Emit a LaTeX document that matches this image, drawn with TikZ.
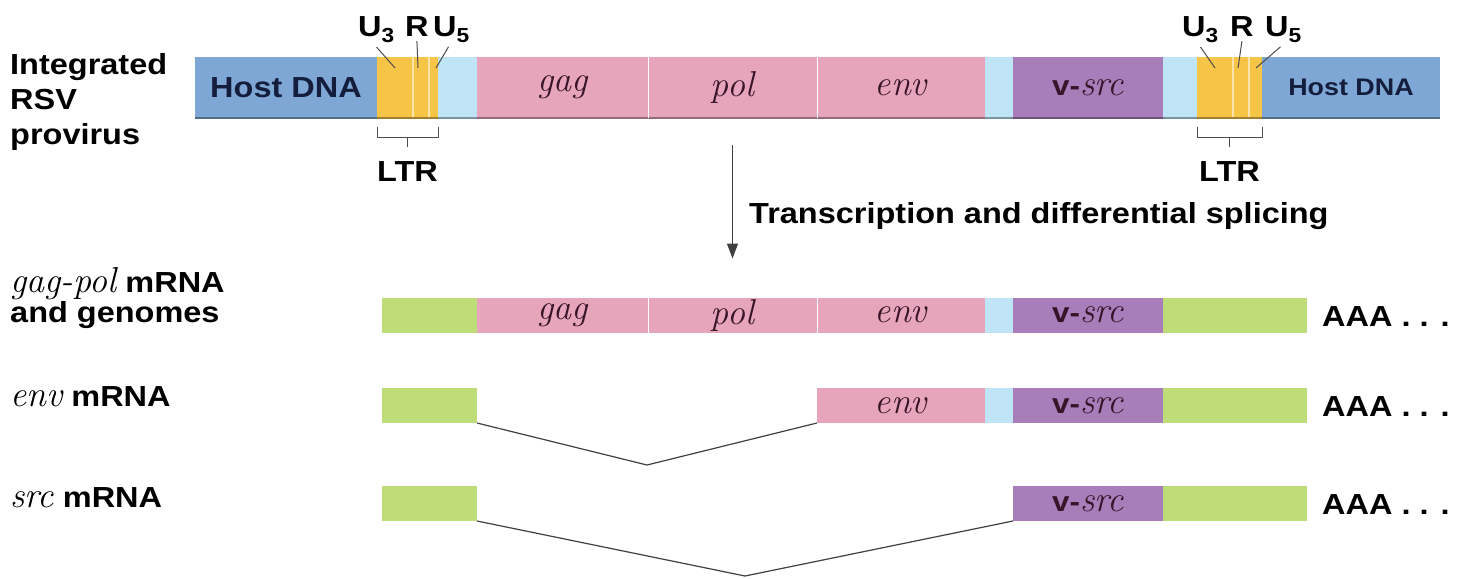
\documentclass[tikz,border=0pt]{standalone}
\usepackage{fontspec}
\usetikzlibrary{positioning, arrows.meta, calc}
\newfontfamily\helv{Liberation Sans}[FakeStretch=1.12]
\newcommand{\lab}{\helv\bfseries\fontsize{29}{35}\selectfont}
\newcommand{\gene}[1]{{\rmfamily\mdseries\itshape\fontsize{36}{38}\selectfont #1}}
\definecolor{hostblue}{RGB}{127,167,214}
\definecolor{ltrblue}{RGB}{190,228,246}
\definecolor{ltryellow}{RGB}{246,196,70}
\definecolor{genepink}{RGB}{230,165,186}
\definecolor{srcpurple}{RGB}{168,125,186}
\definecolor{capgreen}{RGB}{190,220,120}
\definecolor{hosttext}{RGB}{20,30,60}
\definecolor{genetext}{RGB}{55,20,40}

\begin{document}
\begin{tikzpicture}[x=1pt, y=-1pt,
    seg/.style={inner sep=0, outer sep=0, minimum height=61pt, fill=#1,
        path picture={\draw[#1!65!black, line width=2pt]
            (path picture bounding box.south west) -- (path picture bounding box.south east);}},
    rna/.style={inner sep=0, outer sep=0, minimum height=35pt, fill=#1},
    lab/.style={inner sep=0, font=\lab},
    pointer/.style={draw=black!70, line width=1pt},
    splice/.style={draw=black!75, line width=1.2pt},
]
    \useasboundingbox (0,0) rectangle (1458,578);

    % integrated provirus
    \node [seg=hostblue,
        minimum width=182pt,
        anchor=west,
        text=hosttext, font=\lab
    ] (hostL) at (195,87.5) {Host DNA};
    \node [seg=ltryellow, minimum width=61pt, right=0pt of hostL] (ltrL) {};
    \node [seg=ltrblue, minimum width=39pt, right=0pt of ltrL] (lbL) {};
    \node [seg=genepink, minimum width=171pt, right=0pt of lbL, text=genetext] (gag) {\gene{gag}};
    \node [seg=genepink, minimum width=169pt, right=0pt of gag, text=genetext] (pol) {\gene{pol}};
    \node [seg=genepink, minimum width=168pt, right=0pt of pol, text=genetext] (env) {\gene{env}};
    \node [seg=ltrblue, minimum width=28pt, right=0pt of env] (lbM) {};
    \node [seg=srcpurple,
        minimum width=150pt,
        right=0pt of lbM,
        text=genetext, font=\lab\fontsize{28}{30}\selectfont
    ] (vsrc) {v-\gene{src}};
    \node [seg=ltrblue, minimum width=34pt, right=0pt of vsrc] (lbR) {};
    \node [seg=ltryellow, minimum width=65pt, right=0pt of lbR] (ltrR) {};
    \node [seg=hostblue,
        minimum width=178pt,
        right=0pt of ltrR,
        text=hosttext, font=\helv\bfseries\fontsize{24}{28}\selectfont
    ] (hostR) {Host DNA};
    \draw [white, line width=1pt] (gag.north east) -- (gag.south east);
    \draw [white, line width=1pt] (pol.north east) -- (pol.south east);

    \node [lab, anchor=north west, align=left] (provirus) at (10,53) {Integrated\\RSV\\provirus};

    % U3 R U5 and LTR
    \node [lab, anchor=base west] (u3L) at (358,37) {U\textsubscript{3}};
    \node [lab, anchor=base west] (rL) at (405,37) {R};
    \node [lab, anchor=base west] (u5L) at (433,37) {U\textsubscript{5}};
    \node [lab, anchor=base west] (u3R) at (1182,37) {U\textsubscript{3}};
    \node [lab, anchor=base west] (rR) at (1230,37) {R};
    \node [lab, anchor=base west] (u5R) at (1265,37) {U\textsubscript{5}};
    \foreach \s in {L,R} {
        \draw [ltryellow!45!white, line width=1.2pt]
            ($(ltr\s.north west)+(36,0)$) -- ($(ltr\s.south west)+(36,-1)$);
        \draw [ltryellow!45!white, line width=1.2pt]
            ($(ltr\s.north west)+(52,0)$) -- ($(ltr\s.south west)+(52,-1)$);
        \draw [pointer] ([yshift=-4pt]u3\s.south) -- ($(ltr\s.north west)+(18,11)$);
        \draw [pointer] ([yshift=-4pt]r\s.south) -- ($(ltr\s.north west)+(41,11)$);
        \draw [pointer] ([xshift=-3pt, yshift=-4pt]u5\s.south) -- ($(ltr\s.north west)+(59,11)$);
        \draw [pointer] ([yshift=-9pt]ltr\s.south west) -- ++(0,10) -| ([yshift=-9pt]ltr\s.south east);
        \draw [pointer] ([yshift=-19pt]ltr\s.south) -- ++(0,10);
        \node [lab, anchor=base] (ltrtxt\s) at ([yshift=-63pt]ltr\s.south) {LTR};
    }

    % gag-pol mRNA
    \node [rna=capgreen, minimum width=95pt, anchor=west] (cap1) at (382,315) {};
    \node [rna=genepink, minimum width=171pt, right=0pt of cap1, text=genetext] (gag1) {\gene{gag}};
    \node [rna=genepink, minimum width=169pt, right=0pt of gag1, text=genetext] (pol1) {\gene{pol}};
    \node [rna=genepink, minimum width=168pt, right=0pt of pol1, text=genetext] (env1) {\gene{env}};
    \node [rna=ltrblue, minimum width=28pt, right=0pt of env1] (lb1) {};
    \node [rna=srcpurple, minimum width=150pt, right=0pt of lb1, text=genetext,
        font=\lab\fontsize{28}{30}\selectfont] (src1) {v-\gene{src}};
    \node [rna=capgreen, minimum width=144pt, right=0pt of src1] (tail1) {};
    \draw [white, line width=1pt] (gag1.north east) -- (gag1.south east);
    \draw [white, line width=1pt] (pol1.north east) -- (pol1.south east);
    \node [lab, anchor=base west] (aaa1) at (1322,326) {AAA . . .};
    \node [lab, anchor=north west, align=left] (gpmrna) at (10,267) {\gene{gag-pol} mRNA\\[-5pt]and genomes};

    % env mRNA
    \node [rna=capgreen, minimum width=95pt, anchor=west] (cap2) at (382,405.5) {};
    \node [rna=genepink, minimum width=168pt, anchor=west, text=genetext] (env2) at (817,405.5) {\gene{env}};
    \node [rna=ltrblue, minimum width=28pt, right=0pt of env2] (lb2) {};
    \node [rna=srcpurple, minimum width=150pt, right=0pt of lb2, text=genetext,
        font=\lab\fontsize{28}{30}\selectfont] (src2) {v-\gene{src}};
    \node [rna=capgreen, minimum width=144pt, right=0pt of src2] (tail2) {};
    \node [lab, anchor=base west] (aaa2) at (1322,416) {AAA . . .};
    \node [lab, anchor=base west] (envmrna) at (10,406) {\gene{env} mRNA};
    \coordinate (dip2) at (647,465);
    \draw [splice] (cap2.south east) -- (dip2) -- (env2.south west);

    % src mRNA
    \node [rna=capgreen, minimum width=95pt, anchor=west] (cap3) at (382,503.5) {};
    \node [rna=srcpurple, minimum width=150pt, anchor=west, text=genetext,
        font=\lab\fontsize{28}{30}\selectfont] (src3) at (1013,503.5) {v-\gene{src}};
    \node [rna=capgreen, minimum width=144pt, right=0pt of src3] (tail3) {};
    \node [lab, anchor=base west] (aaa3) at (1322,514) {AAA . . .};
    \node [lab, anchor=base west] (srcmrna) at (10,507) {\gene{src} mRNA};
    \coordinate (dip3) at (745,576);
    \draw [splice] (cap3.south east) -- (dip3) -- (src3.south west);

    % transcription
    \draw [-{Triangle[length=15pt, width=11pt]}, black!75, line width=1.3pt]
        ([yshift=-27pt]pol.south) -- ([yshift=39pt]pol1.north);
    \node [lab, anchor=base west] (transcr) at (749,223) {Transcription and differential splicing};
\end{tikzpicture}
\end{document}
